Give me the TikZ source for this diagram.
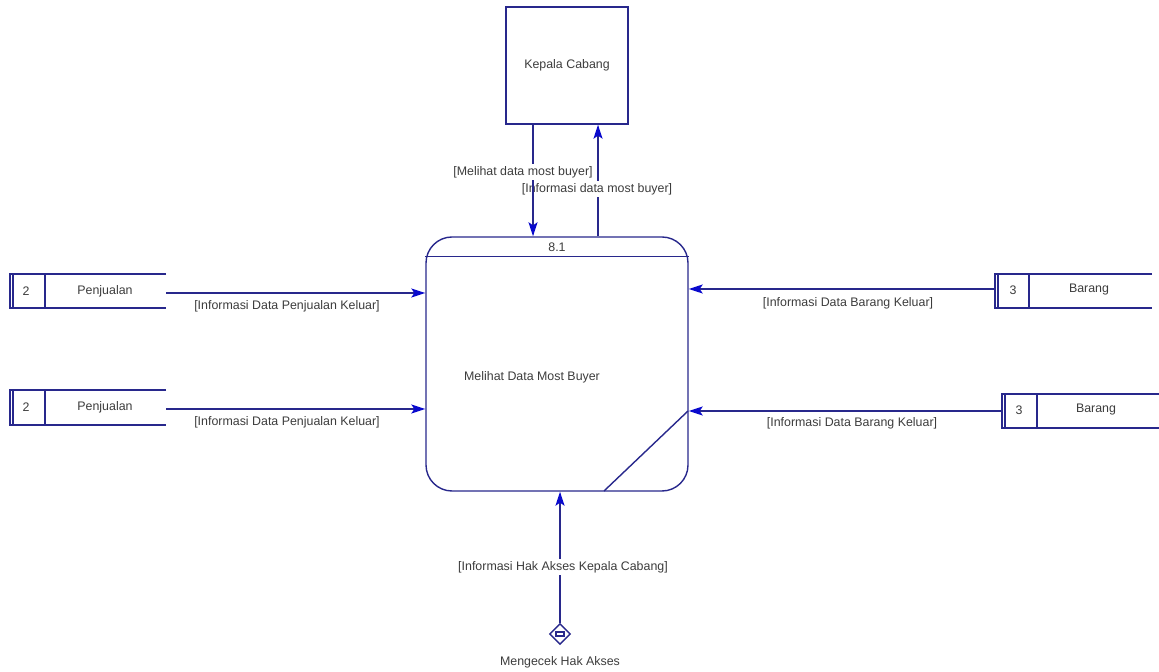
\documentclass[tikz,border=0pt]{standalone}
\usepackage{fontspec}
\setmainfont{Liberation Sans}
\usepackage{tikz}
\usetikzlibrary{positioning,shapes.geometric,arrows.meta}

\definecolor{dfdline}{RGB}{40,40,140}
\definecolor{dfdarrow}{RGB}{10,10,205}
\definecolor{dfdtext}{RGB}{60,60,60}

\begin{document}
\begin{tikzpicture}[x=0.5pt, y=-0.5pt,
    line/.style={draw=dfdline, line width=0.7pt},
    flow/.style={line, -{Stealth[length=7pt, width=4.5pt, inset=1.5pt, color=dfdarrow]}},
    lbl/.style={text=dfdtext, font=\fontsize{6.2}{7}\selectfont, inner sep=1pt}]
    \useasboundingbox (0,0) rectangle (1159,672);

    % external entity and process
    \node[line, lbl, rectangle, minimum width=61pt, minimum height=58.5pt] (kc) at (567,65.5) {Kepala Cabang};
    \node[line, rectangle, rounded corners=13pt, minimum width=131pt, minimum height=127pt] (proc) at (557,364) {};
    \draw[line] ([yshift=-10pt]proc.north west) -- ([yshift=-10pt]proc.north east);
    \node[lbl] (procid) at (557,247) {8.1};
    \node[lbl] (procname) at (532,377) {Melihat Data Most Buyer};
    \draw[line] (604,491) -- (688,411);

    % data stores left
    \draw[line] (166,274) -- (10,274) -- (10,308) -- (166,308);
    \draw[line] (13,274) -- (13,308);
    \draw[line] (45,274) -- (45,308);
    \node[lbl] (pj1id) at (26,291) {2};
    \node[lbl] (pj1) at (105,291) {Penjualan};
    \coordinate (pj1out) at (166,293);

    \draw[line] (166,390) -- (10,390) -- (10,425) -- (166,425);
    \draw[line] (13,390) -- (13,425);
    \draw[line] (45,390) -- (45,425);
    \node[lbl] (pj2id) at (26,407) {2};
    \node[lbl] (pj2) at (105,407) {Penjualan};
    \coordinate (pj2out) at (166,409);

    % data stores right
    \draw[line] (1152,274) -- (995,274) -- (995,308) -- (1152,308);
    \draw[line] (998,274) -- (998,308);
    \draw[line] (1029,274) -- (1029,308);
    \node[lbl] (br1id) at (1013,290) {3};
    \node[lbl] (br1) at (1089,290) {Barang};
    \coordinate (br1out) at (995,289);

    \draw[line] (1159,394) -- (1002,394) -- (1002,428) -- (1159,428);
    \draw[line] (1005,394) -- (1005,428);
    \draw[line] (1037,394) -- (1037,428);
    \node[lbl] (br2id) at (1019,410) {3};
    \node[lbl] (br2) at (1096,410) {Barang};
    \coordinate (br2out) at (1002,411);

    % flows
    \draw[flow] (pj1out) -- (proc.west |- pj1out);
    \node[lbl] (pj1flow) at (287,306) {[Informasi Data Penjualan Keluar]};
    \draw[flow] (pj2out) -- (proc.west |- pj2out);
    \node[lbl] (pj2flow) at (287,422) {[Informasi Data Penjualan Keluar]};
    \draw[flow] (br1out) -- (proc.east |- br1out);
    \node[lbl] (br1flow) at (848,303) {[Informasi Data Barang Keluar]};
    \draw[flow] (br2out) -- (proc.east |- br2out);
    \node[lbl] (br2flow) at (852,423) {[Informasi Data Barang Keluar]};

    \draw[flow] ([xshift=20.5pt]proc.north) -- ([xshift=20.5pt]proc.north |- kc.south);
    \node[lbl, fill=white] (infoflow) at (597,189) {[Informasi data most buyer]};
    \draw[flow] ([xshift=-17pt]kc.south) -- ([xshift=-17pt]kc.south |- proc.north);
    \node[lbl, fill=white] (lihatflow) at (523,172) {[Melihat data most buyer]};

    % access check
    \node[line, diamond, minimum size=10.5pt, inner sep=0pt] (cek) at (560,634) {};
    \node[line, rectangle, minimum width=4pt, minimum height=2pt, inner sep=0pt] (cekicon) at (cek) {};
    \node[lbl] (ceklbl) at (560,662) {Mengecek Hak Akses};
    \draw[flow] (cek.north) -- (cek.north |- proc.south);
    \node[lbl, fill=white] (hakflow) at (563,567) {[Informasi Hak Akses Kepala Cabang]};
\end{tikzpicture}
\end{document}
